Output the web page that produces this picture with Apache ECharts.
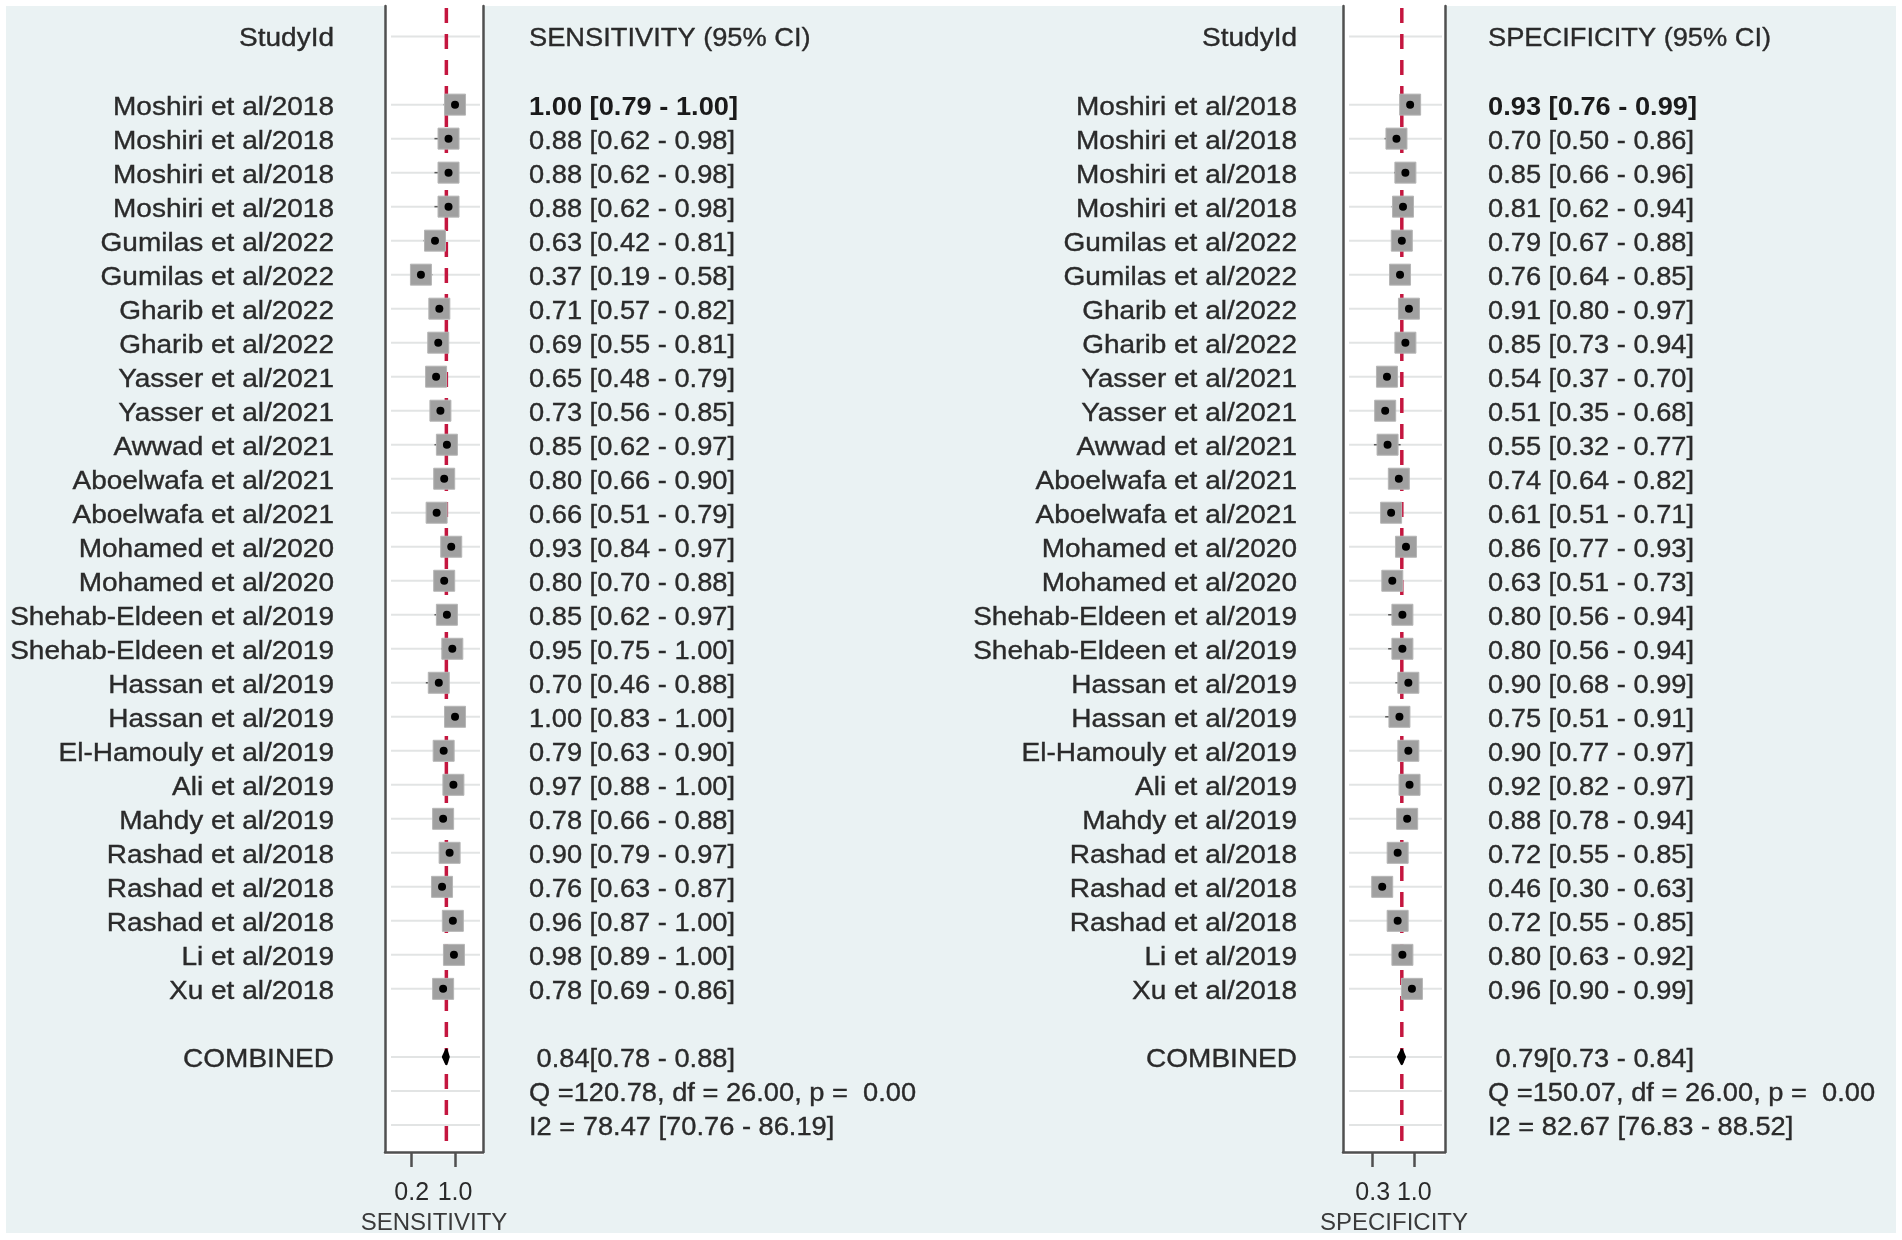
<!DOCTYPE html>
<html>
<head>
<meta charset="utf-8">
<script src="https://cdn.jsdelivr.net/npm/echarts@6/dist/echarts.min.js"></script>
<style>
  html, body { margin: 0; padding: 0; background: #ffffff; }
  #chart { width: 1902px; height: 1240px; }
</style>
</head>
<body>
<div id="chart"></div>
<script>
// ---------------- DATA ----------------
const studies = [
  'Moshiri et al/2018', 'Moshiri et al/2018', 'Moshiri et al/2018', 'Moshiri et al/2018',
  'Gumilas et al/2022', 'Gumilas et al/2022', 'Gharib et al/2022', 'Gharib et al/2022',
  'Yasser et al/2021', 'Yasser et al/2021', 'Awwad et al/2021', 'Aboelwafa et al/2021',
  'Aboelwafa et al/2021', 'Mohamed et al/2020', 'Mohamed et al/2020', 'Shehab-Eldeen et al/2019',
  'Shehab-Eldeen et al/2019', 'Hassan et al/2019', 'Hassan et al/2019', 'El-Hamouly et al/2019',
  'Ali et al/2019', 'Mahdy et al/2019', 'Rashad et al/2018', 'Rashad et al/2018',
  'Rashad et al/2018', 'Li et al/2019', 'Xu et al/2018'
];
const sensEst = [1.00, 0.88, 0.88, 0.88, 0.63, 0.37, 0.71, 0.69, 0.65, 0.73, 0.85, 0.80, 0.66, 0.93, 0.80, 0.85, 0.95, 0.70, 1.00, 0.79, 0.97, 0.78, 0.90, 0.76, 0.96, 0.98, 0.78];
const sensLo  = [0.79, 0.62, 0.62, 0.62, 0.42, 0.19, 0.57, 0.55, 0.48, 0.56, 0.62, 0.66, 0.51, 0.84, 0.70, 0.62, 0.75, 0.46, 0.83, 0.63, 0.88, 0.66, 0.79, 0.63, 0.87, 0.89, 0.69];
const sensHi  = [1.00, 0.98, 0.98, 0.98, 0.81, 0.58, 0.82, 0.81, 0.79, 0.85, 0.97, 0.90, 0.79, 0.97, 0.88, 0.97, 1.00, 0.88, 1.00, 0.90, 1.00, 0.88, 0.97, 0.87, 1.00, 1.00, 0.86];
const specEst = [0.93, 0.70, 0.85, 0.81, 0.79, 0.76, 0.91, 0.85, 0.54, 0.51, 0.55, 0.74, 0.61, 0.86, 0.63, 0.80, 0.80, 0.90, 0.75, 0.90, 0.92, 0.88, 0.72, 0.46, 0.72, 0.80, 0.96];
const specLo  = [0.76, 0.50, 0.66, 0.62, 0.67, 0.64, 0.80, 0.73, 0.37, 0.35, 0.32, 0.64, 0.51, 0.77, 0.51, 0.56, 0.56, 0.68, 0.51, 0.77, 0.82, 0.78, 0.55, 0.30, 0.55, 0.63, 0.90];
const specHi  = [0.99, 0.86, 0.96, 0.94, 0.88, 0.85, 0.97, 0.94, 0.70, 0.68, 0.77, 0.82, 0.71, 0.93, 0.73, 0.94, 0.94, 0.99, 0.91, 0.97, 0.97, 0.94, 0.85, 0.63, 0.85, 0.92, 0.99];
const sensPooled = [0.84, 0.78, 0.88];   // estimate, lower, upper
const specPooled = [0.79, 0.73, 0.84];
const sensStats = ['Q =120.78, df = 26.00, p =  0.00', 'I2 = 78.47 [70.76 - 86.19]'];
const specStats = ['Q =150.07, df = 26.00, p =  0.00', 'I2 = 82.67 [76.83 - 88.52]'];
const sensTicks = [0.2, 1.0];
const specTicks = [0.3, 1.0];
const headerLabels = ['StudyId', 'COMBINED'];
const measureNames = ['SENSITIVITY', 'SPECIFICITY'];

// ---------------- LAYOUT ----------------
const HEADER_ROW = 0, FIRST_ROW = 2, COMB_ROW = 30;
const FONT = "'Liberation Sans', Arial, sans-serif";
const TXT = '#2a2a2a';
const BORDER = '#505050';
const panels = [
  { name: measureNames[0], est: sensEst, lo: sensLo, hi: sensHi, pooled: sensPooled, stats: sensStats, ticks: sensTicks,
    left: 385, width: 98, min: -0.294, max: 1.517, nameOff: 51, valOff: 46 },
  { name: measureNames[1], est: specEst, lo: specLo, hi: specHi, pooled: specPooled, stats: specStats, ticks: specTicks,
    left: 1343, width: 102, min: -0.200, max: 1.517, nameOff: 46, valOff: 43 }
];
const TOP = 6, HEIGHT = 1149;
const YMIN = -0.90, YMAX = 32.80;
const TEXT_DY = 3;

const f2 = v => v.toFixed(2);

const grids = [], xAxes = [], yAxes = [], series = [];

panels.forEach((p, i) => {
  grids.push({ left: p.left, top: TOP, width: p.width, height: HEIGHT, containLabel: false });
  xAxes.push({
    type: 'value', gridIndex: i, min: p.min, max: p.max,
    name: p.name, nameLocation: 'middle', nameGap: 46,
    nameTextStyle: { fontFamily: FONT, fontSize: 24, color: '#3a3a3a' },
    axisLine: { show: true, onZero: false, lineStyle: { color: BORDER, width: 2.5 } },
    axisTick: { show: true, length: 15, customValues: p.ticks, lineStyle: { color: BORDER, width: 2.5 } },
    axisLabel: { show: true, customValues: p.ticks, margin: 29, fontFamily: FONT, fontSize: 25, color: TXT,
                 formatter: v => v.toFixed(1) },
    splitLine: { show: false }
  });
  ['left', 'right'].forEach(pos => {
    yAxes.push({
      type: 'value', gridIndex: i, position: pos, inverse: true, min: YMIN, max: YMAX,
      axisLine: { show: true, onZero: false, lineStyle: { color: BORDER, width: 2.5 } },
      axisTick: { show: false }, axisLabel: { show: false }, splitLine: { show: false }
    });
  });
  const yIdx = i * 2;

  // rows with content (for faint row lines)
  const lineRows = [HEADER_ROW];
  p.est.forEach((_, k) => lineRows.push(FIRST_ROW + k));
  lineRows.push(COMB_ROW, COMB_ROW + 1, COMB_ROW + 2);

  series.push({
    type: 'custom', xAxisIndex: i, yAxisIndex: yIdx, silent: true, z: 1,
    data: lineRows.map(r => [0, r]),
    renderItem: (params, api) => {
      const cs = params.coordSys;
      const y = api.coord([0, api.value(1)])[1];
      return { type: 'line', shape: { x1: cs.x + 6, y1: y, x2: cs.x + cs.width - 3, y2: y },
               style: { stroke: '#e2e4e4', lineWidth: 2 } };
    }
  });

  // pooled reference line (dashed)
  series.push({
    type: 'custom', xAxisIndex: i, yAxisIndex: yIdx, silent: true, z: 2,
    data: [[p.pooled[0], 0]],
    renderItem: (params, api) => {
      const cs = params.coordSys;
      const x = api.coord([api.value(0), 0])[0];
      return { type: 'line', shape: { x1: x, y1: cs.y + 2, x2: x, y2: cs.y + cs.height },
               style: { stroke: '#c4163f', lineWidth: 3.5, lineDash: [15, 11] } };
    }
  });

  // studies: CI line, square, dot
  series.push({
    type: 'custom', xAxisIndex: i, yAxisIndex: yIdx, silent: true, z: 3,
    data: p.est.map((e, k) => [e, FIRST_ROW + k, p.lo[k], p.hi[k]]),
    renderItem: (params, api) => {
      const c = api.coord([api.value(0), api.value(1)]);
      const l = api.coord([api.value(2), api.value(1)]);
      const h = api.coord([api.value(3), api.value(1)]);
      const s = 21;
      return { type: 'group', children: [
        { type: 'line', shape: { x1: l[0], y1: c[1], x2: h[0], y2: c[1] }, style: { stroke: '#5a5a5a', lineWidth: 1.5 } },
        { type: 'rect', shape: { x: c[0] - s / 2, y: c[1] - s / 2, width: s, height: s },
          style: { fill: '#a0a0a0', stroke: '#b5b5b5', lineWidth: 1 } },
        { type: 'circle', shape: { cx: c[0], cy: c[1], r: 4 }, style: { fill: '#000' } }
      ] };
    }
  });

  // pooled diamond
  series.push({
    type: 'custom', xAxisIndex: i, yAxisIndex: yIdx, silent: true, z: 4,
    data: [[p.pooled[0], COMB_ROW, p.pooled[1], p.pooled[2]]],
    renderItem: (params, api) => {
      const c = api.coord([api.value(0), api.value(1)]);
      const l = api.coord([api.value(2), api.value(1)]);
      const h = api.coord([api.value(3), api.value(1)]);
      const hh = 7;
      return { type: 'polygon', shape: { points: [[l[0], c[1]], [c[0], c[1] - hh], [h[0], c[1]], [c[0], c[1] + hh]] },
               style: { fill: '#000', stroke: '#000', lineWidth: 2.5, lineJoin: 'round' } };
    }
  });

  // text columns
  const texts = [];
  texts.push({ row: HEADER_ROW, side: 'L', t: headerLabels[0], bold: false });
  texts.push({ row: HEADER_ROW, side: 'R', t: p.name + ' (95% CI)', bold: false });
  p.est.forEach((e, k) => {
    texts.push({ row: FIRST_ROW + k, side: 'L', t: studies[k], bold: false });
    texts.push({ row: FIRST_ROW + k, side: 'R', t: f2(e) + ' [' + f2(p.lo[k]) + ' - ' + f2(p.hi[k]) + ']', bold: k === 0 });
  });
  texts.push({ row: COMB_ROW, side: 'L', t: headerLabels[1], bold: false });
  texts.push({ row: COMB_ROW, side: 'R', t: ' ' + f2(p.pooled[0]) + '[' + f2(p.pooled[1]) + ' - ' + f2(p.pooled[2]) + ']', bold: false });
  texts.push({ row: COMB_ROW + 1, side: 'R', t: p.stats[0], bold: false });
  texts.push({ row: COMB_ROW + 2, side: 'R', t: p.stats[1], bold: false });

  series.push({
    type: 'custom', xAxisIndex: i, yAxisIndex: yIdx, silent: true, z: 5, clip: false,
    data: texts.map(t => [0, t.row]),
    renderItem: (params, api) => {
      const cs = params.coordSys;
      const item = texts[params.dataIndex];
      const y = api.coord([0, api.value(1)])[1] + TEXT_DY;
      const isL = item.side === 'L';
      const x = isL ? cs.x - p.nameOff : cs.x + cs.width + p.valOff;
      const sx = isL ? 1.12 : 1.09;
      return { type: 'text', x: x, y: y, scaleX: sx,
               style: { x: 0, y: 0, text: item.t, align: isL ? 'right' : 'left', verticalAlign: 'middle',
                        font: (item.bold ? 'bold ' : '') + '25px ' + FONT, fill: item.bold ? '#1a1a1a' : TXT,
                        stroke: item.bold ? null : TXT, lineWidth: 0.35 } };
    }
  });
});

const chart = echarts.init(document.getElementById('chart'), null, { renderer: 'canvas' });
chart.setOption({
  backgroundColor: '#ffffff',
  animation: false,
  graphic: [
    { type: 'rect', z: -10, shape: { x: 6, y: 6, width: 1890, height: 1227 }, style: { fill: '#eaf2f3' } },
    { type: 'rect', z: -9, shape: { x: panels[0].left, y: TOP, width: panels[0].width, height: HEIGHT }, style: { fill: '#ffffff' } },
    { type: 'rect', z: -9, shape: { x: panels[1].left, y: TOP, width: panels[1].width, height: HEIGHT }, style: { fill: '#ffffff' } }
  ],
  grid: grids,
  xAxis: xAxes,
  yAxis: yAxes,
  series: series
});
</script>
</body>
</html>
